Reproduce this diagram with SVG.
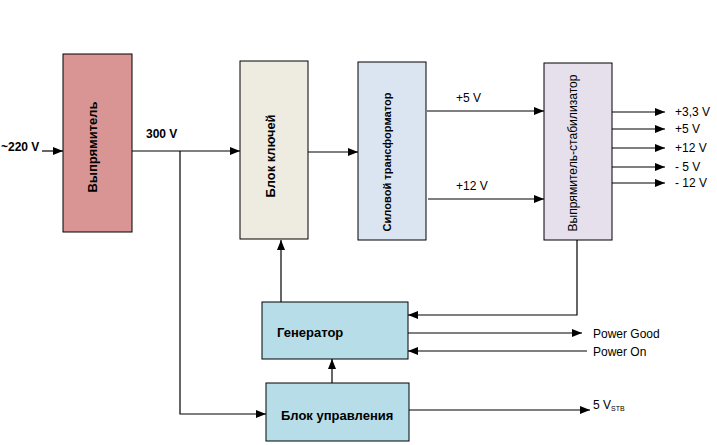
<svg xmlns="http://www.w3.org/2000/svg" width="717" height="445" viewBox="0 0 717 445">
<defs>
<marker id="ah" viewBox="0 0 10 10" refX="10" refY="5" markerWidth="10" markerHeight="10" markerUnits="userSpaceOnUse" orient="auto">
<path d="M0,1 L10,5 L0,9 z" fill="#000"/>
</marker>
</defs>
<style>
.box{stroke:#000;stroke-width:1}
.t{font-family:"Liberation Sans",Arial,sans-serif;fill:#000}
.b{font-weight:bold}
.c{stroke:#000;stroke-width:1.2;fill:none}
.a{marker-end:url(#ah)}
</style>
<rect width="717" height="445" fill="#fff"/>
<g id="connectors">
<line class="c a" x1="42" y1="151" x2="63" y2="151"/>
<line class="c a" x1="132" y1="151" x2="240" y2="151"/>
<polyline class="c a" points="180,151 180,414 266,414"/>
<line class="c a" x1="308" y1="152" x2="358" y2="152"/>
<line class="c a" x1="427" y1="111" x2="544" y2="111"/>
<line class="c a" x1="428" y1="199" x2="544" y2="199"/>
<line class="c a" x1="612" y1="112" x2="665" y2="112"/>
<line class="c a" x1="612" y1="129" x2="665" y2="129"/>
<line class="c a" x1="612" y1="148" x2="665" y2="148"/>
<line class="c a" x1="612" y1="167" x2="665" y2="167"/>
<line class="c a" x1="612" y1="183" x2="665" y2="183"/>
<polyline class="c a" points="577,240 577,315 408,315"/>
<line class="c a" x1="281" y1="302" x2="281" y2="240"/>
<line class="c a" x1="408" y1="333" x2="582" y2="333"/>
<line class="c a" x1="587" y1="351" x2="408" y2="351"/>
<line class="c a" x1="332" y1="383" x2="332" y2="359"/>
<line class="c a" x1="409" y1="410" x2="590" y2="410"/>
</g>
<g id="n-vypr">
<rect class="box" x="63" y="54" width="69" height="178" fill="#d99594"/>
<text class="t b" font-size="13" text-anchor="middle" transform="translate(97,147) rotate(-90)" textLength="91" lengthAdjust="spacingAndGlyphs">Выпрямитель</text>
</g>
<g id="n-kluch">
<rect class="box" x="240" y="61" width="68" height="178" fill="#eeece1"/>
<text class="t b" font-size="13" text-anchor="middle" transform="translate(275,156) rotate(-90)" textLength="83" lengthAdjust="spacingAndGlyphs">Блок ключей</text>
</g>
<g id="n-trans">
<rect class="box" x="358" y="62" width="68" height="178" fill="#dbe5f1"/>
<text class="t b" font-size="11.5" text-anchor="middle" transform="translate(391,162) rotate(-90)" textLength="139" lengthAdjust="spacingAndGlyphs">Силовой трансформатор</text>
</g>
<g id="n-stab">
<rect class="box" x="544" y="63" width="68" height="177" fill="#e5e0ec"/>
<text class="t" font-size="12" text-anchor="middle" transform="translate(577,153) rotate(-90)" textLength="157" lengthAdjust="spacingAndGlyphs">Выпрямитель-стабилизатор</text>
</g>
<g id="n-gen">
<rect class="box" x="262" y="302" width="146" height="57" fill="#b7dde8"/>
<text class="t b" font-size="13" x="277" y="337">Генератор</text>
</g>
<g id="n-upr">
<rect class="box" x="266" y="383" width="143" height="58" fill="#b7dde8"/>
<text class="t b" font-size="13" x="281" y="420">Блок управления</text>
</g>
<g id="labels">
<text class="t b" font-size="12" x="1" y="151">~220 V</text>
<text class="t b" font-size="12" x="146" y="138">300 V</text>
<text class="t" font-size="12" x="456" y="102">+5 V</text>
<text class="t" font-size="12" x="456" y="190">+12 V</text>
<text class="t" font-size="12" x="675" y="116">+3,3 V</text>
<text class="t" font-size="12" x="675" y="133">+5 V</text>
<text class="t" font-size="12" x="675" y="152">+12 V</text>
<text class="t" font-size="12" x="675" y="171">- 5 V</text>
<text class="t" font-size="12" x="675" y="187">- 12 V</text>
<text class="t" font-size="12" x="593" y="338">Power Good</text>
<text class="t" font-size="12" x="593" y="356">Power On</text>
<text class="t" font-size="12" x="593" y="409">5 V<tspan font-size="7" dy="2">STB</tspan></text>
</g>
</svg>
